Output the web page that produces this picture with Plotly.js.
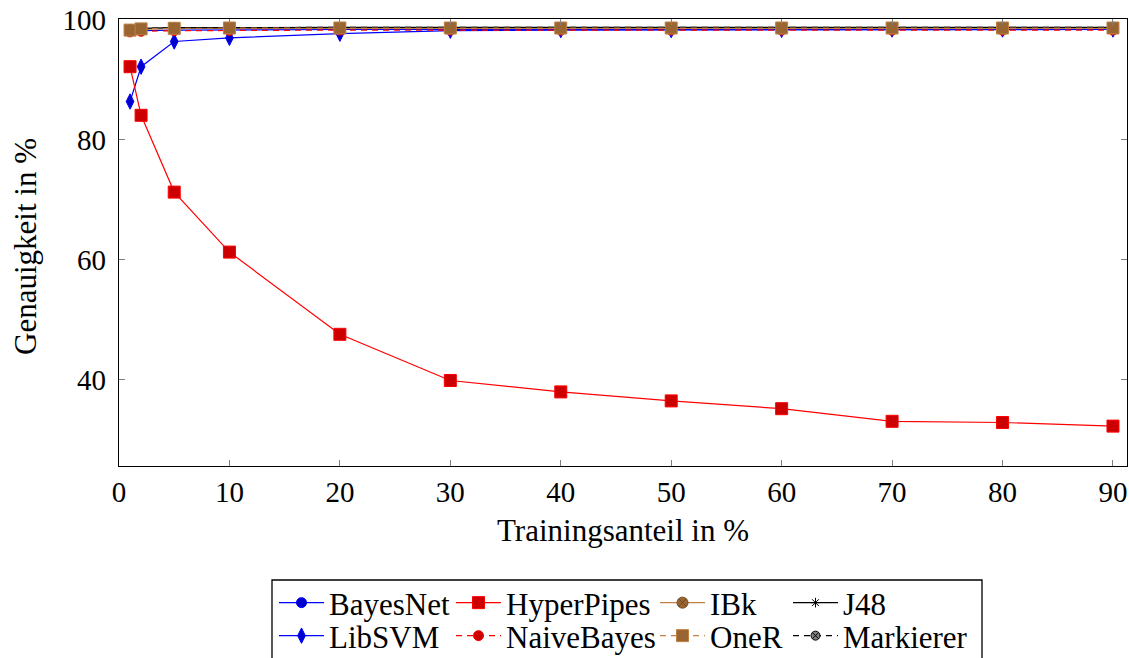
<!DOCTYPE html>
<html>
<head>
<meta charset="utf-8">
<script src="https://cdn.plot.ly/plotly-3.0.1.min.js"></script>
<style>html,body{margin:0;padding:0;background:#fff;}#chart{width:1129px;height:658px;}</style>
</head>
<body>
<div id="chart"></div>
<script>
// ---- data ----
const trainShare = [1, 2, 5, 10, 20, 30, 40, 50, 60, 70, 80, 90];
const bayesNet   = [98.1, 98.2, 98.3, 98.35, 98.4, 98.4, 98.4, 98.4, 98.4, 98.4, 98.4, 98.4];
const hyperPipes = [92.2, 84.1, 71.3, 61.3, 47.6, 39.9, 38.0, 36.5, 35.2, 33.1, 32.9, 32.3];
const iBk        = [98.2, 98.4, 98.6, 98.6, 98.6, 98.6, 98.6, 98.6, 98.6, 98.6, 98.6, 98.6];
const j48        = [98.5, 98.6, 98.7, 98.75, 98.75, 98.75, 98.75, 98.75, 98.75, 98.75, 98.75, 98.75];
const libSVM     = [86.4, 92.2, 96.4, 97.0, 97.7, 98.2, 98.3, 98.3, 98.35, 98.4, 98.4, 98.4];
const naiveBayes = [98.0, 98.1, 98.2, 98.25, 98.3, 98.3, 98.3, 98.3, 98.3, 98.3, 98.3, 98.3];
const oneR       = [98.3, 98.5, 98.6, 98.65, 98.65, 98.65, 98.65, 98.65, 98.65, 98.65, 98.65, 98.65];
const markierer  = [98.5, 98.6, 98.7, 98.75, 98.75, 98.75, 98.75, 98.75, 98.75, 98.75, 98.75, 98.75];
const xTicks = [0, 10, 20, 30, 40, 50, 60, 70, 80, 90];
const yTicks = [40, 60, 80, 100];
const xTitle = 'Trainingsanteil in %';
const yTitle = 'Genauigkeit in %';

const BLUE = 'rgb(0,0,255)', BLUE_M = 'rgb(0,0,204)';
const RED = 'rgb(255,0,0)', RED_M = 'rgb(204,0,0)';
const BROWN = 'rgb(191,128,64)', BROWN_M = 'rgb(153,102,51)';
const FONT = 'Liberation Serif, Times New Roman, serif';
const TXT = 31, TICK = 29;

function tr(name, y, lineColor, dash, symbol, mColor, mLine, size, legend) {
  return {
    type: 'scatter', mode: 'lines+markers', name: name, x: trainShare, y: y,
    line: {color: lineColor, width: 1.2, dash: dash},
    marker: {symbol: symbol, color: mColor, size: size, line: {color: mLine, width: 1}},
    legend: legend, showlegend: true
  };
}

const traces = [
  tr('BayesNet', bayesNet, BLUE, 'solid', 'circle', BLUE_M, BLUE, 10, 'legend'),
  tr('LibSVM', libSVM, BLUE, 'solid', 'diamond-tall', BLUE_M, BLUE, 11, 'legend5'),
  tr('NaiveBayes', naiveBayes, RED, '6px,5px', 'circle', RED_M, RED, 10, 'legend6'),
  tr('IBk', iBk, BROWN, 'solid', 'circle-x', BROWN_M, 'rgb(110,72,35)', 11, 'legend3'),
  tr('J48', j48, 'black', 'solid', 'asterisk-open', 'black', 'black', 8, 'legend4'),
  tr('Markierer', markierer, 'black', '6px,5px', 'circle-x', 'rgb(128,128,128)', 'black', 9, 'legend8'),
  tr('HyperPipes', hyperPipes, RED, 'solid', 'square', RED_M, RED, 12, 'legend2'),
  tr('OneR', oneR, BROWN, '6px,5px', 'square', BROWN_M, BROWN, 12, 'legend7')
];

const W = 1129, H = 658;
function leg(px, py) {
  return {x: px / W, y: 1 - py / H, xref: 'container', yref: 'container', xanchor: 'left', yanchor: 'middle',
    orientation: 'v', bgcolor: 'rgba(0,0,0,0)', borderwidth: 0, itemwidth: 45,
    font: {family: FONT, size: TXT, color: 'black'}, itemclick: false, itemdoubleclick: false};
}
const r1 = 603, r2 = 636;

const layout = {
  width: W, height: H,
  margin: {l: 119, r: 2, t: 19, b: 192, pad: 0, autoexpand: false},
  paper_bgcolor: 'white', plot_bgcolor: 'white',
  font: {family: FONT, size: TXT, color: 'black'},
  showlegend: true,
  xaxis: {
    range: [0, 91.27], tickvals: xTicks, ticktext: xTicks.map(String),
    ticks: 'inside', ticklen: 6, tickcolor: 'rgb(128,128,128)', tickwidth: 1,
    showline: true, linecolor: 'black', linewidth: 1.2, mirror: 'ticks',
    showgrid: false, zeroline: false, automargin: true,
    tickfont: {family: FONT, size: TICK, color: 'black'},
    title: {text: xTitle, font: {family: FONT, size: TXT, color: 'black'}, standoff: 12}
  },
  yaxis: {
    range: [25.65, 100.15], tickvals: yTicks, ticktext: yTicks.map(String),
    ticks: 'inside', ticklen: 6, tickcolor: 'rgb(128,128,128)', tickwidth: 1,
    showline: true, linecolor: 'black', linewidth: 1.2, mirror: 'ticks',
    showgrid: false, zeroline: false, ticklabelstandoff: 6,
    tickfont: {family: FONT, size: TICK, color: 'black'}
  },
  annotations: [{
    text: yTitle, xref: 'paper', yref: 'paper', x: (26 - 119) / 1008, y: 0.49,
    xanchor: 'center', yanchor: 'middle', textangle: -90, showarrow: false,
    font: {family: FONT, size: TXT, color: 'black'}
  }],
  legend: leg(274, r1), legend2: leg(451, r1), legend3: leg(655, r1), legend4: leg(788, r1),
  legend5: leg(274, r2), legend6: leg(451, r2), legend7: leg(655, r2), legend8: leg(788, r2),
  shapes: [{
    type: 'rect', xref: 'paper', yref: 'paper',
    x0: (272 - 119) / 1008, x1: (982 - 119) / 1008,
    y0: (466 - 662) / 447, y1: (466 - 580) / 447,
    line: {color: 'black', width: 1.3}, fillcolor: 'rgba(0,0,0,0)'
  }]
};

Plotly.newPlot('chart', traces, layout, {displayModeBar: false, staticPlot: true});
</script>
</body>
</html>
